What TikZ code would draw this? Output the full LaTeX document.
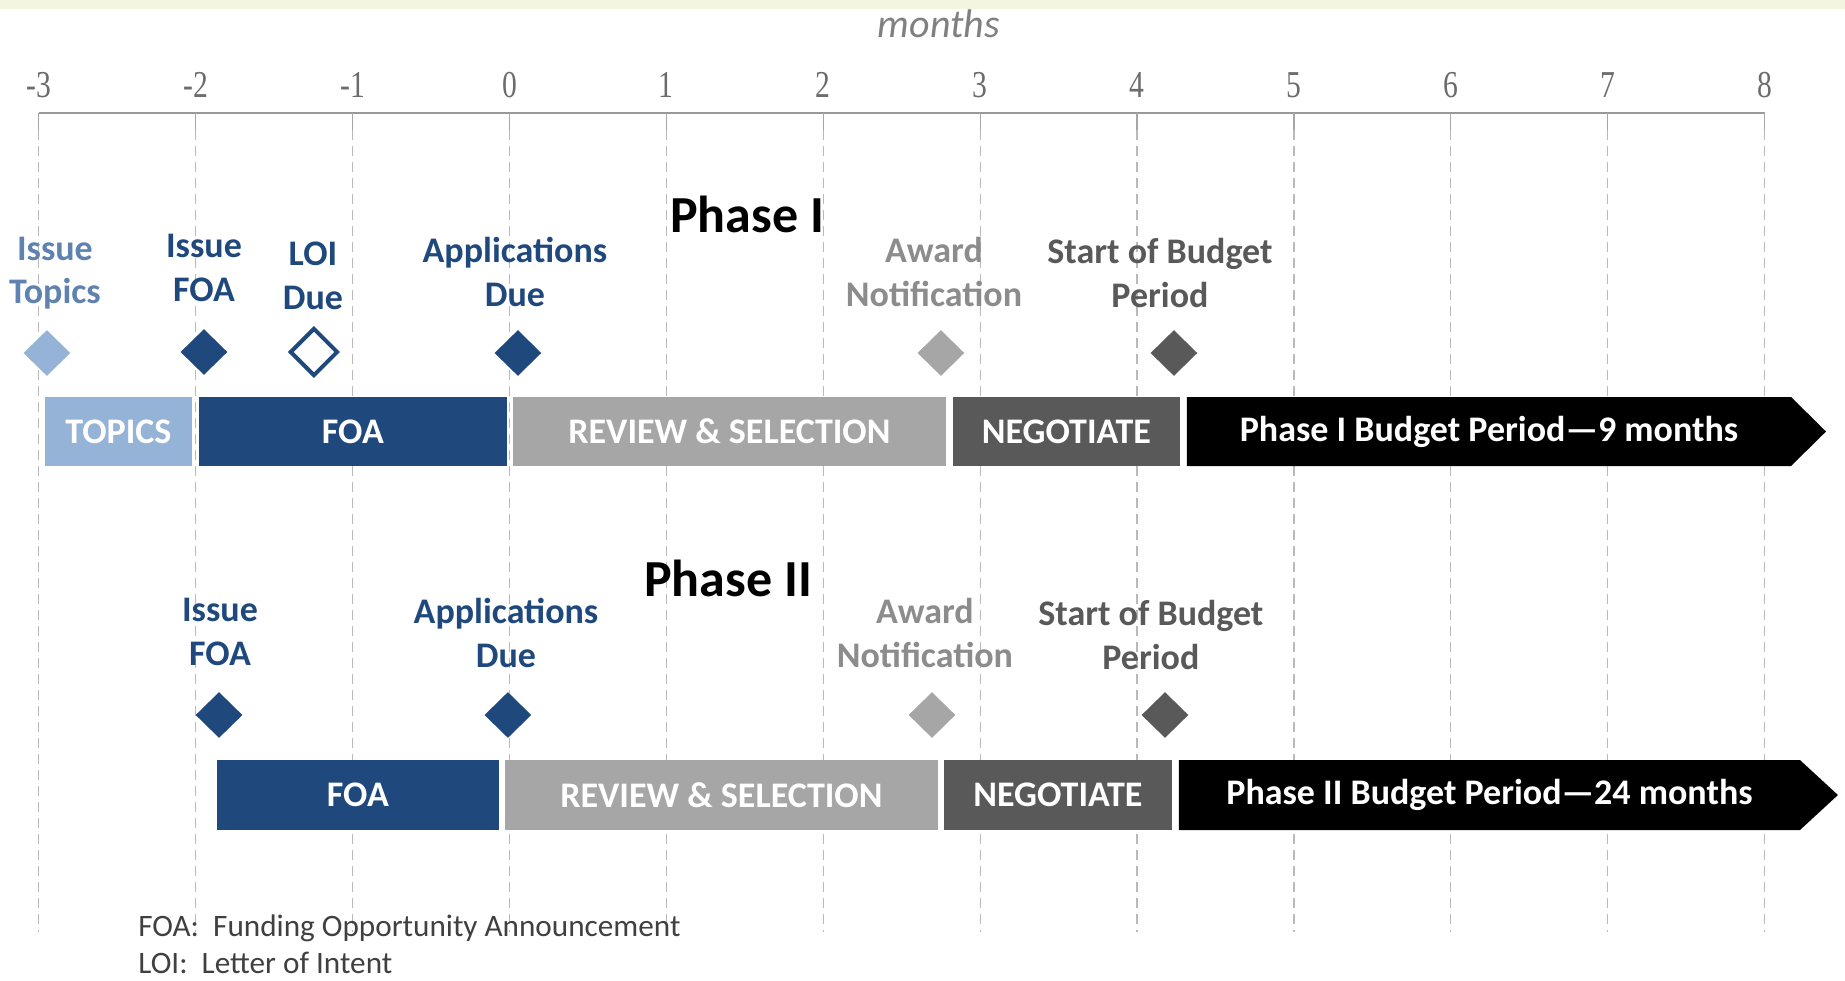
\documentclass[tikz,border=0pt]{standalone}
\usepackage{fontspec}
\setmainfont{Carlito}
\newfontfamily\numfont[FakeStretch=0.78]{Liberation Serif}
\usepackage{xcolor}
\usepackage{tikz}
\usetikzlibrary{
	shapes.geometric
}
\definecolor{TopicBlue}{RGB}{149,179,215}
\definecolor{TopicText}{RGB}{96,130,176}
\definecolor{FoaBlue}{RGB}{31,73,125}
\definecolor{ReviewGray}{RGB}{166,166,166}
\definecolor{AwardText}{RGB}{140,140,140}
\definecolor{NegGray}{RGB}{89,89,89}
\definecolor{NoteGray}{RGB}{64,64,64}
\definecolor{TopBand}{RGB}{243,245,222}

\tikzset{
	vline/.style={gray!55, dash pattern=on 5pt off 3pt, line width=0.6pt},
	lbl/.style={align=center, inner sep=0pt, font=\bfseries\fontsize{18}{21.8}\selectfont},
	ms/.style={diamond, inner sep=0pt, minimum width=23.5pt, minimum height=23pt},
	bartext/.style={inner sep=0pt, text=white, font=\bfseries\fontsize{18}{21.6}\selectfont},
	phasetitle/.style={inner sep=0pt, font=\bfseries\fontsize{26}{30}\selectfont},
	note/.style={anchor=west, inner sep=0pt, text=NoteGray, font=\fontsize{15.6}{19}\selectfont}
}

\begin{document}
\begin{tikzpicture}[x=78.45pt, y=-0.5pt]
	\useasboundingbox (-3.247,0) rectangle (8.512,980);
	\fill[TopBand] (-3.247,0) rectangle (8.512,9);
	% time axis
	\node[inner sep=0pt, text=gray, font=\itshape\fontsize{20}{24}\selectfont] (months) at (2.737,24) {months};
	\draw[gray!80, line width=1pt] (-3,113) -- (8,113);
	\foreach \m in {-3,...,8} {
		\node[inner sep=0pt, text=gray!85!black, font=\numfont\fontsize{19}{22}\selectfont] (n\m) at (\m,85) {\m};
		\draw[gray!70, line width=0.6pt] (\m,113) -- (\m,130);
		\draw[vline] (\m,130) -- (\m,932);
	}

	% Phase I
	\node[phasetitle] (ph1) at (1.514,214) {Phase I};
	\node[lbl, text=TopicText] (l-top1) at (-2.897,273) {Issue\\Topics};
	\node[lbl, text=FoaBlue] (l-foa1) at (-1.947,268) {Issue\\FOA};
	\node[lbl, text=FoaBlue] (l-loi1) at (-1.252,276) {LOI\\Due};
	\node[lbl, text=FoaBlue] (l-app1) at (0.035,272) {Applications\\Due};
	\node[lbl, text=AwardText] (l-awd1) at (2.706,272) {Award\\Notification};
	\node[lbl, text=NegGray] (l-bud1) at (4.146,273) {Start of Budget\\Period};
	\node[ms, fill=TopicBlue] (d-top1) at (-2.948,353) {};
	\node[ms, fill=FoaBlue] (d-foa1) at (-1.947,352) {};
	\node[ms, draw=FoaBlue, fill=white, line width=2pt, minimum width=24pt, minimum height=24pt] (d-loi1) at (-1.246,352) {};
	\node[ms, fill=FoaBlue] (d-app1) at (0.054,353) {};
	\node[ms, fill=ReviewGray] (d-awd1) at (2.750,353) {};
	\node[ms, fill=NegGray] (d-bud1) at (4.235,353) {};
	\fill[TopicBlue] (-2.960,397) rectangle (-2.024,466);
	\fill[FoaBlue] (-1.979,397) rectangle (-0.016,466);
	\fill[ReviewGray] (0.022,397) rectangle (2.782,466);
	\fill[NegGray] (2.826,397) rectangle (4.273,466);
	\fill[black] (4.318,397) -- (8.168,397) -- (8.391,431.5) -- (8.168,466) -- (4.318,466) -- cycle;
	\node[bartext] (topics1) at (-2.492,431.5) {TOPICS};
	\node[bartext] (foa1) at (-0.998,431.5) {FOA};
	\node[bartext] (review1) at (1.402,431.5) {REVIEW \& SELECTION};
	\node[bartext] (neg1) at (3.550,431.5) {NEGOTIATE};
	\node[bartext] (budget1) at (6.243,431.5) {Phase I Budget Period\textemdash 9 months};

	% Phase II
	\node[phasetitle] (ph2) at (1.393,578) {Phase II};
	\node[lbl, text=FoaBlue] (l-foa2) at (-1.845,632) {Issue\\FOA};
	\node[lbl, text=FoaBlue] (l-app2) at (-0.022,633) {Applications\\Due};
	\node[lbl, text=AwardText] (l-awd2) at (2.648,633) {Award\\Notification};
	\node[lbl, text=NegGray] (l-bud2) at (4.088,635) {Start of Budget\\Period};
	\node[ms, fill=FoaBlue] (d-foa2) at (-1.851,715) {};
	\node[ms, fill=FoaBlue] (d-app2) at (-0.010,715) {};
	\node[ms, fill=ReviewGray] (d-awd2) at (2.693,715) {};
	\node[ms, fill=NegGray] (d-bud2) at (4.178,715) {};
	\fill[FoaBlue] (-1.864,760) rectangle (-0.067,830);
	\fill[ReviewGray] (-0.029,760) rectangle (2.731,830);
	\fill[NegGray] (2.769,760) rectangle (4.222,830);
	\fill[black] (4.267,760) -- (8.225,760) -- (8.467,795) -- (8.225,830) -- (4.267,830) -- cycle;
	\node[bartext] (foa2) at (-0.966,795) {FOA};
	\node[bartext] (review2) at (1.351,795) {REVIEW \& SELECTION};
	\node[bartext] (neg2) at (3.496,795) {NEGOTIATE};
	\node[bartext] (budget2) at (6.246,795) {Phase II Budget Period\textemdash 24 months};

	% notes
	\node[note] (n-foa) at (-2.368,928) {FOA:\ \ Funding Opportunity Announcement};
	\node[note] (n-loi) at (-2.368,963) {LOI:\ \ Letter of Intent};
\end{tikzpicture}
\end{document}
